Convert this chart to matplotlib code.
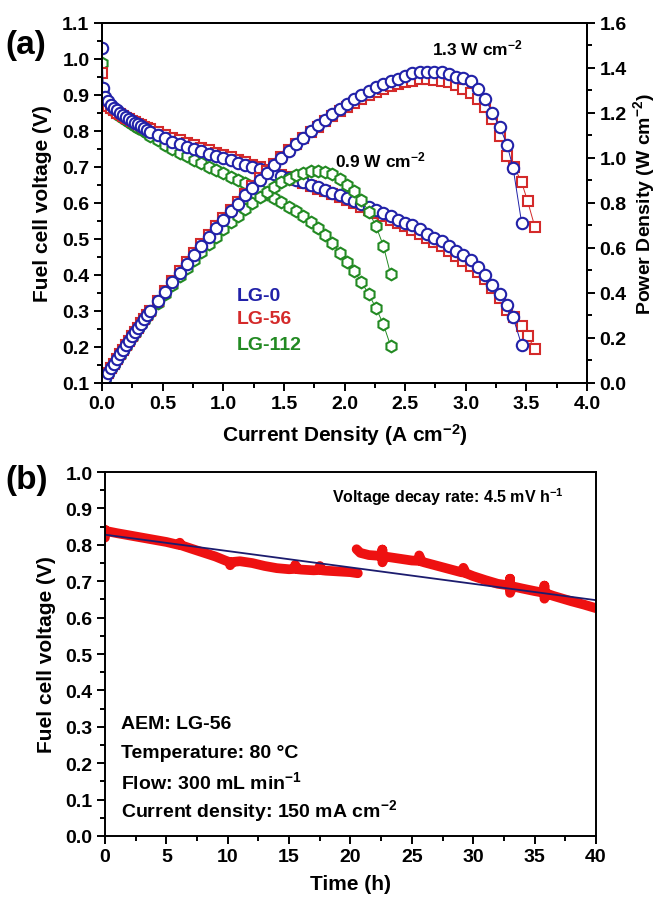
import numpy as np
import matplotlib
matplotlib.use("Agg")
import matplotlib.pyplot as plt
from matplotlib.ticker import MultipleLocator, FormatStrFormatter

plt.rcParams['font.family'] = ['Liberation Sans', 'DejaVu Sans']
plt.rcParams['font.weight'] = 'bold'
plt.rcParams['mathtext.default'] = 'regular'

# ---------------------------------------------------------------------------
# (a) polarization data: current density (A cm-2) and cell voltage (V)
I_LG0 = [0.000, 0.010, 0.025, 0.050, 0.075, 0.100, 0.125, 0.150, 0.175, 0.200,
         0.225, 0.250, 0.275, 0.300, 0.325, 0.350, 0.375, 0.400, 0.460, 0.520,
         0.580, 0.640, 0.700, 0.760, 0.820, 0.880, 0.940, 1.000, 1.060, 1.120,
         1.180, 1.240, 1.300, 1.360, 1.420, 1.480, 1.540, 1.600, 1.660, 1.720,
         1.780, 1.840, 1.900, 1.960, 2.020, 2.080, 2.140, 2.200, 2.260, 2.320,
         2.380, 2.440, 2.500, 2.560, 2.620, 2.680, 2.740, 2.800, 2.860, 2.920,
         2.980, 3.040, 3.100, 3.160, 3.220, 3.280, 3.340, 3.390, 3.460]
V_LG0 = [1.030, 0.920, 0.895, 0.882, 0.872, 0.864, 0.857, 0.850, 0.844, 0.838,
         0.833, 0.828, 0.823, 0.818, 0.813, 0.808, 0.803, 0.798, 0.789, 0.779,
         0.770, 0.763, 0.756, 0.749, 0.743, 0.737, 0.731, 0.725, 0.719, 0.712,
         0.706, 0.699, 0.693, 0.687, 0.681, 0.675, 0.669, 0.663, 0.657, 0.650,
         0.643, 0.636, 0.629, 0.622, 0.614, 0.606, 0.598, 0.590, 0.581, 0.572,
         0.563, 0.554, 0.545, 0.538, 0.527, 0.515, 0.504, 0.493, 0.480, 0.466,
         0.455, 0.442, 0.422, 0.400, 0.372, 0.347, 0.317, 0.282, 0.206]

I_LG56 = [0.000, 0.010, 0.025, 0.050, 0.075, 0.100, 0.125, 0.150, 0.175, 0.200,
          0.225, 0.250, 0.275, 0.300, 0.325, 0.350, 0.375, 0.400, 0.460, 0.520,
          0.580, 0.640, 0.700, 0.760, 0.820, 0.880, 0.940, 1.000, 1.060, 1.120,
          1.180, 1.240, 1.300, 1.360, 1.420, 1.480, 1.540, 1.600, 1.660, 1.720,
          1.780, 1.840, 1.900, 1.960, 2.020, 2.080, 2.140, 2.200, 2.260, 2.320,
          2.380, 2.440, 2.500, 2.560, 2.620, 2.680, 2.740, 2.800, 2.860, 2.920,
          2.980, 3.040, 3.100, 3.160, 3.220, 3.280, 3.340, 3.400, 3.460, 3.510,
          3.570]
V_LG56 = [0.960, 0.890, 0.878, 0.870, 0.863, 0.857, 0.851, 0.846, 0.841, 0.836,
          0.832, 0.828, 0.824, 0.820, 0.816, 0.812, 0.808, 0.804, 0.796, 0.788,
          0.781, 0.774, 0.767, 0.760, 0.753, 0.746, 0.740, 0.733, 0.727, 0.720,
          0.713, 0.706, 0.699, 0.692, 0.685, 0.678, 0.671, 0.664, 0.656, 0.648,
          0.640, 0.632, 0.624, 0.616, 0.607, 0.599, 0.590, 0.581, 0.572, 0.563,
          0.554, 0.545, 0.535, 0.525, 0.515, 0.504, 0.492, 0.480, 0.467, 0.453,
          0.439, 0.424, 0.407, 0.388, 0.364, 0.335, 0.302, 0.282, 0.258, 0.230,
          0.194]

I_LG112 = [0.000, 0.010, 0.025, 0.050, 0.075, 0.100, 0.125, 0.150, 0.175, 0.200,
           0.225, 0.250, 0.275, 0.300, 0.325, 0.350, 0.375, 0.400, 0.460, 0.520,
           0.580, 0.640, 0.700, 0.760, 0.820, 0.880, 0.940, 1.000, 1.060, 1.120,
           1.180, 1.240, 1.300, 1.360, 1.420, 1.480, 1.540, 1.600, 1.660, 1.720,
           1.780, 1.840, 1.900, 1.960, 2.020, 2.080, 2.140, 2.200, 2.260, 2.320,
           2.380]
V_LG112 = [0.990, 0.905, 0.882, 0.870, 0.862, 0.855, 0.848, 0.842, 0.836, 0.830,
           0.825, 0.819, 0.814, 0.809, 0.804, 0.799, 0.794, 0.786, 0.774, 0.762,
           0.751, 0.740, 0.730, 0.720, 0.710, 0.700, 0.691, 0.682, 0.673, 0.664,
           0.655, 0.645, 0.635, 0.624, 0.613, 0.602, 0.590, 0.577, 0.563, 0.548,
           0.530, 0.510, 0.488, 0.462, 0.436, 0.410, 0.380, 0.346, 0.308, 0.263,
           0.203]

# ---------------------------------------------------------------------------
# (b) durability test at 150 mA cm-2: time (h) and cell voltage (V)
T_RUN1 = [0.0, 0.0, 0.1, 1.0, 2.0, 3.0, 4.0, 5.0, 6.0, 6.1, 6.2, 7.0, 8.0, 9.0,
          9.8, 10.2, 10.2, 10.4, 11.0, 12.0, 13.0, 14.0, 15.0, 15.5, 15.5, 15.7,
          16.0, 17.0, 17.5, 17.5, 17.7, 18.0, 19.0, 20.0, 20.6]
V_RUN1 = [0.820, 0.842, 0.838, 0.832, 0.826, 0.820, 0.814, 0.808, 0.800, 0.806,
          0.799, 0.790, 0.779, 0.768, 0.757, 0.752, 0.744, 0.753, 0.755, 0.750,
          0.742, 0.736, 0.733, 0.734, 0.745, 0.733, 0.732, 0.730, 0.731, 0.742,
          0.730, 0.729, 0.727, 0.725, 0.722]

T_RUN2 = [20.5, 20.8, 21.5, 22.3, 22.6, 22.6, 22.6, 22.8, 23.0, 24.0, 25.0,
          25.6, 25.6, 25.8, 26.0, 27.0, 28.0, 29.0, 29.2, 29.2, 29.4, 30.0, 31.0,
          32.0, 33.0, 33.0, 33.0, 33.2, 34.0, 35.0, 35.8, 35.8, 35.8, 36.0, 36.5,
          37.0, 38.0, 39.0, 40.0]
V_RUN2 = [0.788, 0.778, 0.772, 0.770, 0.768, 0.787, 0.752, 0.768, 0.767, 0.762,
          0.757, 0.756, 0.771, 0.754, 0.752, 0.743, 0.734, 0.725, 0.724, 0.737,
          0.722, 0.714, 0.703, 0.693, 0.688, 0.707, 0.668, 0.686, 0.680, 0.673,
          0.668, 0.688, 0.652, 0.666, 0.660, 0.655, 0.645, 0.636, 0.626]

# linear fit of the voltage decay
FIT_T = [0.0, 40.0]
FIT_V = [0.828, 0.648]

BLUE = '#2121a8'
RED = '#d42a2a'
GREEN = '#238a23'

fig = plt.figure(figsize=(6.6, 9.03), dpi=100)

# ---------------------------------------------------------------------------
# panel (a)
ax = fig.add_axes([0.1545, 0.5748, 0.735, 0.3987])
axp = ax.twinx()

series = [(I_LG0, V_LG0, BLUE, 'o', 8.2),
          (I_LG56, V_LG56, RED, 's', 7.2),
          (I_LG112, V_LG112, GREEN, 'h', 8.4)]

# draw green first so blue ends up on top
for cur, volt, col, mk, ms in series[::-1]:
    cur = np.array(cur)
    volt = np.array(volt)
    ax.plot(cur, volt, '-', color=col, lw=0.7, marker=mk, ms=ms,
            mfc='white', mec=col, mew=1.5)
    # power density = current density x voltage
    axp.plot(cur, cur * volt, '-', color=col, lw=0.7, marker=mk, ms=ms,
             mfc='white', mec=col, mew=1.5)

ax.set_xlim(0, 4.0)
ax.set_ylim(0.1, 1.1)
axp.set_ylim(0.0, 1.6)
ax.xaxis.set_major_locator(MultipleLocator(0.5))
ax.xaxis.set_minor_locator(MultipleLocator(0.25))
ax.yaxis.set_major_locator(MultipleLocator(0.1))
ax.yaxis.set_minor_locator(MultipleLocator(0.05))
axp.yaxis.set_major_locator(MultipleLocator(0.2))
axp.yaxis.set_minor_locator(MultipleLocator(0.1))
ax.xaxis.set_major_formatter(FormatStrFormatter('%.1f'))
ax.yaxis.set_major_formatter(FormatStrFormatter('%.1f'))
axp.yaxis.set_major_formatter(FormatStrFormatter('%.1f'))

for a in (ax, axp):
    a.tick_params(which='both', direction='out', width=1.4, labelsize=14, pad=3)
    a.tick_params(which='major', length=6)
    a.tick_params(which='minor', length=3.5)
    for sp in a.spines.values():
        sp.set_linewidth(1.4)
ax.tick_params(axis='y', which='both', right=False)
ax.tick_params(axis='x', which='both', top=False)

ax.set_xlabel('Current Density (A cm$^{-2}$)', fontsize=15, fontweight='bold',
              labelpad=6)
ax.set_ylabel('Fuel cell voltage (V)', fontsize=15, fontweight='bold', labelpad=7)
axp.set_ylabel('Power Density (W cm$^{-2}$)', fontsize=14, fontweight='bold',
               labelpad=3)

ax.text(2.72, 1.033, '1.3 W cm$^{-2}$', fontsize=12.5, fontweight='bold',
        va='center', ha='left')
ax.text(1.92, 0.722, '0.9 W cm$^{-2}$', fontsize=12.5, fontweight='bold',
        va='center', ha='left')
ax.text(1.11, 0.344, 'LG-0', color=BLUE, fontsize=14, fontweight='bold', va='center')
ax.text(1.11, 0.278, 'LG-56', color=RED, fontsize=14, fontweight='bold', va='center')
ax.text(1.11, 0.208, 'LG-112', color=GREEN, fontsize=14, fontweight='bold', va='center')

fig.text(0.008, 0.950, '(a)', fontsize=24, fontweight='bold', va='center')

# ---------------------------------------------------------------------------
# panel (b)
bx = fig.add_axes([0.159, 0.0731, 0.744, 0.403])
for t, v in ((T_RUN1, V_RUN1), (T_RUN2, V_RUN2)):
    bx.plot(t, v, '-', color='#ee1111', lw=7, solid_capstyle='round',
            solid_joinstyle='round')
bx.plot(FIT_T, FIT_V, '-', color='#1c1c6e', lw=1.3)

bx.set_xlim(0, 40)
bx.set_ylim(0.0, 1.0)
bx.xaxis.set_major_locator(MultipleLocator(5))
bx.xaxis.set_minor_locator(MultipleLocator(2.5))
bx.yaxis.set_major_locator(MultipleLocator(0.1))
bx.yaxis.set_minor_locator(MultipleLocator(0.05))
bx.yaxis.set_major_formatter(FormatStrFormatter('%.1f'))
bx.tick_params(which='both', direction='out', width=1.4, labelsize=14, pad=3,
               top=False, right=False)
bx.tick_params(which='major', length=6)
bx.tick_params(which='minor', length=3.5)
for sp in bx.spines.values():
    sp.set_linewidth(1.4)

bx.set_xlabel('Time (h)', fontsize=15, fontweight='bold', labelpad=6)
bx.set_ylabel('Fuel cell voltage (V)', fontsize=15, fontweight='bold', labelpad=7)

bx.text(18.5, 0.935, 'Voltage decay rate: 4.5 mV h$^{-1}$', fontsize=11.5,
        fontweight='bold', va='center')
conditions = ['AEM: LG-56', 'Temperature: 80 \u00b0C', 'Flow: 300 mL min$^{-1}$',
              'Current density: 150 mA cm$^{-2}$']
for k, line in enumerate(conditions):
    bx.text(1.3, 0.308 - k * 0.079, line, fontsize=14, fontweight='bold', va='center')

fig.text(0.008, 0.468, '(b)', fontsize=24, fontweight='bold', va='center')

fig.savefig('out.png', dpi=100)
